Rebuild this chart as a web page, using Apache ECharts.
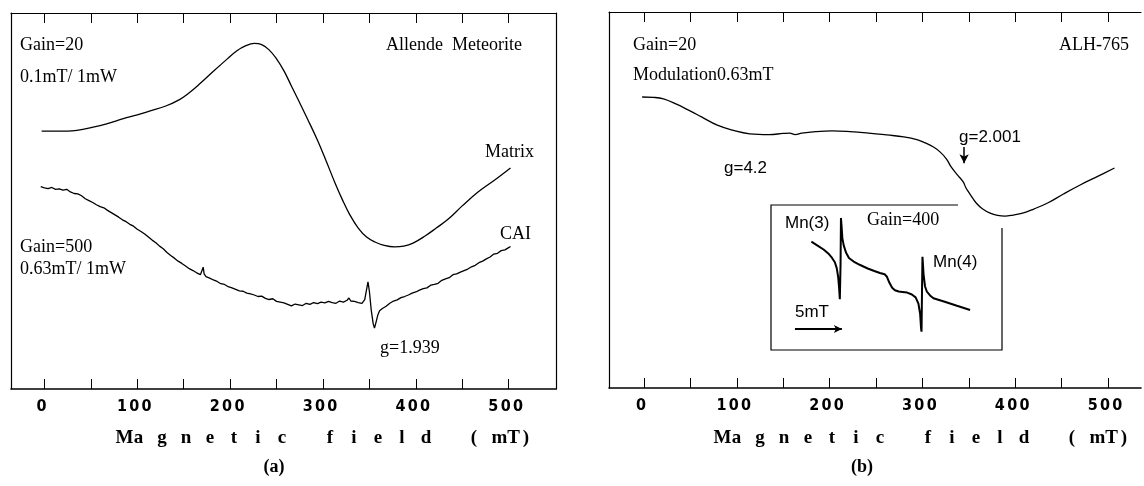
<!DOCTYPE html>
<html><head><meta charset="utf-8">
<script src="https://cdn.jsdelivr.net/npm/echarts@6/dist/echarts.min.js"></script>
<style>html,body{margin:0;padding:0;background:#fff}#c{width:1144px;height:486px}</style>
</head><body><div id="c"></div>
<script>
// ---------- data ----------
const tickValues = [0, 50, 100, 150, 200, 250, 300, 350, 400, 450, 500];
const labelValues = [0, 100, 200, 300, 400, 500];
const axisTitle = 'Ma g n e t i c   f i e l d   ( mT)';

// (a) Allende meteorite, Matrix (field mT, signal arb.)
const matrixA = [[-3,68.6],[10,68.6],[25,68.6],[35,68.8],[50,69.5],[67,70.5],[85,71.9],[100,72.9],[113,73.9],[130,75.2],[145,76.9],[156,78.8],[167,81.1],[182,84.5],[197,87.8],[207,89.9],[217,91.3],[226,91.9],[234,91.6],[242,90.2],[250,87.8],[258,84.6],[266,80.6],[274,76.6],[284,71.5],[294,66.2],[303,60.9],[313,54.8],[321,50.3],[329,46.3],[338,42.8],[347,40.4],[356,39.1],[366,38.2],[377,37.8],[387,38.0],[397,38.8],[410,40.7],[422,42.8],[435,45.2],[450,48.7],[467,52.4],[485,55.6],[502,58.8]];

// (a) CAI (noisy trace)
const caiA = [[-4,53.8],[0,53.5],[4,53.3],[8,53.6],[12,53.1],[16,53.2],[20,52.9],[24,53.1],[28,52.4],[32,52.0],[36,51.9],[40,51.4],[44,50.6],[48,50.1],[52,49.6],[56,49.0],[60,48.5],[64,48.2],[68,47.5],[72,46.9],[76,46.3],[80,45.7],[84,45.0],[88,44.5],[92,43.8],[96,43.3],[100,42.5],[104,41.9],[108,41.2],[112,40.4],[116,39.6],[120,38.9],[124,38.0],[128,37.3],[132,36.3],[136,35.5],[140,34.8],[144,34.0],[148,33.4],[152,32.7],[156,32.0],[160,31.5],[164,30.9],[168,30.4],[170,30.5],[171,32.4],[172,30.6],[174,29.9],[178,29.5],[182,29.0],[186,28.6],[190,28.0],[194,27.8],[198,27.2],[202,26.9],[206,26.5],[210,26.1],[214,26.0],[218,25.5],[222,25.3],[226,25.0],[230,24.6],[234,24.7],[238,24.1],[242,23.8],[246,24.0],[250,23.3],[254,23.1],[258,22.9],[262,22.5],[266,22.1],[270,22.6],[274,22.4],[278,22.2],[282,22.8],[286,22.5],[290,23.0],[294,22.7],[298,23.1],[302,22.9],[306,23.3],[310,23.0],[314,22.8],[318,23.4],[322,23.1],[326,23.6],[328,24.2],[330,23.4],[334,23.3],[338,23.0],[342,22.8],[345,23.8],[347,26.5],[348.5,28.5],[350,26.0],[352,21.0],[354,17.5],[355.5,16.2],[357,17.6],[359,19.6],[361,20.8],[364,21.4],[368,22.0],[372,22.8],[376,23.4],[380,23.7],[384,24.3],[388,24.6],[392,25.0],[396,25.5],[400,25.8],[404,26.3],[408,26.7],[412,26.9],[416,27.6],[420,27.8],[424,28.1],[428,28.9],[432,29.3],[436,29.6],[440,30.4],[444,30.6],[448,31.1],[452,31.5],[456,31.9],[460,32.5],[464,32.9],[468,33.6],[472,34.0],[476,34.6],[480,35.1],[484,35.9],[488,36.1],[492,36.8],[496,37.0],[500,37.6],[502,37.9]];

// (b) ALH-765
const alhB = [[-2,77.4],[10,77.3],[21,76.9],[35,75.5],[48,73.9],[62,72.1],[79,69.9],[95,68.6],[114,67.6],[135,67.4],[150,67.7],[157,67.8],[163,67.4],[170,67.8],[185,68.2],[203,68.4],[222,68.2],[242,67.8],[262,67.3],[280,66.8],[295,66.0],[303,65.2],[312,64.1],[319,62.8],[326,60.9],[331,58.8],[338,56.6],[344,54.8],[347,53.2],[349,52.4],[352,51.3],[358,49.2],[365,47.6],[373,46.5],[381,45.9],[389,45.7],[398,46.0],[408,46.5],[420,47.6],[435,49.2],[452,51.6],[470,54.0],[490,56.4],[507,58.5]];

// (b) inset, Mn(3)/Mn(4) lines, field offset in mT
const insetMn = [[4.3,74.7],[5.0,71.8],[5.6,69.3],[6.1,66.6],[6.5,63.5],[6.8,60.5],[7.0,56.5],[7.15,50.5],[7.25,43],[7.33,35],[7.37,34.5],[7.41,60],[7.45,91],[7.52,85],[7.6,77],[7.75,72],[8.0,67],[8.3,63.5],[8.8,61],[9.5,58.6],[10.3,56.2],[11.0,54.5],[11.6,53.1],[12.1,52.2],[12.35,50.5],[12.6,46.5],[12.9,43],[13.2,41.2],[13.6,40.3],[14.0,40.0],[14.5,39.6],[15.0,38.3],[15.4,36.3],[15.7,32],[15.88,25],[15.98,15],[16.03,12.6],[16.08,40],[16.13,64.3],[16.25,52],[16.4,44],[16.6,40.2],[17.0,37.2],[17.3,35.7],[18.5,33.3],[19.8,30.5],[21.2,27.6]];
const scaleBar = [2.55, 7.55, 14.5];   // 5 mT bar: from, to, height
const gArrow = [345, 64.1, 59.8];      // g=2.001 arrow: field, from, to

// ---------- layout ----------
const GA = {left: 11, top: 13, width: 545, height: 376};
const GB = {left: 609, top: 12, width: 532, height: 376};
const GI = {left: 771, top: 205, width: 231, height: 145};
const SERIF = "'Liberation Serif','Times New Roman',serif";
const SANS = "'Liberation Sans',Arial,sans-serif";
const NARROW = "'Liberation Sans Narrow','DejaVu Sans Condensed',sans-serif";

const digitRich = {d: {width: 12.3, align: 'center', fontSize: 16, fontWeight: 'bold', fontFamily: NARROW, color: '#000'}};
function digits(v) { return String(v).split('').map(c => '{d|' + c + '}').join(''); }

function bottomAxis(grid, min, max) {
  return {type: 'value', gridIndex: grid, position: 'bottom', min, max,
    axisLine: {show: true, onZero: false, lineStyle: {color: '#000', width: 1.6}},
    axisTick: {show: true, inside: true, length: 10, customValues: tickValues, lineStyle: {color: '#000', width: 1}},
    axisLabel: {show: true, customValues: labelValues, formatter: digits, rich: digitRich, margin: 10, padding: [0, 6, 0, 0]},
    splitLine: {show: false}};
}
function topAxis(grid, min, max) {
  return {type: 'value', gridIndex: grid, position: 'top', min, max,
    axisLine: {show: true, onZero: false, lineStyle: {color: '#000', width: 1.2}},
    axisTick: {show: true, inside: true, length: 10, customValues: tickValues, lineStyle: {color: '#000', width: 1}},
    axisLabel: {show: false}, splitLine: {show: false}};
}
function sideAxis(grid, pos) {
  return {type: 'value', gridIndex: grid, position: pos, min: 0, max: 100,
    axisLine: {show: true, onZero: false, lineStyle: {color: '#000', width: 1.2}},
    axisTick: {show: false}, axisLabel: {show: false}, splitLine: {show: false}};
}

const txt = (x, y, text, opt) => Object.assign({type: 'text', x, y, style: Object.assign({text, fill: '#000', font: '18px ' + SERIF, verticalAlign: 'middle', align: 'left'}, opt || {})});

function spacedTitle(x, y) {
  const wide = {M: 17, a: 11, m: 15, T: 13};
  const rich = {};
  let s = '';
  axisTitle.split('').forEach((c, i) => {
    const key = 'c' + i;
    rich[key] = {width: wide[c] || 12.0, align: 'center', fontSize: 19, fontWeight: 'bold', fontFamily: SERIF, color: '#000'};
    s += '{' + key + '|' + (c === ' ' ? '\u00a0' : c) + '}';
  });
  return {type: 'text', x, y, style: {text: s, rich, verticalAlign: 'middle', align: 'left'}};
}

const insetFrame = {type: 'polyline', shape: {points: [
  [GI.left + GI.width - 44, GI.top], [GI.left, GI.top], [GI.left, GI.top + GI.height],
  [GI.left + GI.width, GI.top + GI.height], [GI.left + GI.width, GI.top + 23]]},
  style: {stroke: '#000', lineWidth: 1.2, fill: null}};

const line = (color, w) => ({color, width: w});

const option = {
  animation: false,
  backgroundColor: '#fff',
  grid: [Object.assign({}, GA), Object.assign({}, GB), Object.assign({}, GI)],
  xAxis: [bottomAxis(0, -36, 551), topAxis(0, -36, 551), bottomAxis(1, -37.7, 535.6), topAxis(1, -37.7, 535.6),
    {type: 'value', gridIndex: 2, min: 0, max: 24.6, show: false}],
  yAxis: [sideAxis(0, 'left'), sideAxis(0, 'right'), sideAxis(1, 'left'),
    {type: 'value', gridIndex: 2, min: 0, max: 100, show: false}],
  series: [
    {type: 'line', name: 'Matrix', xAxisIndex: 0, yAxisIndex: 0, data: matrixA, smooth: 0.4, showSymbol: false, symbol: 'none', lineStyle: line('#000', 1.3)},
    {type: 'line', name: 'CAI', xAxisIndex: 0, yAxisIndex: 0, data: caiA, smooth: false, showSymbol: false, symbol: 'none', lineStyle: line('#000', 1.3)},
    {type: 'line', name: 'ALH-765', xAxisIndex: 2, yAxisIndex: 2, data: alhB, smooth: 0.4, showSymbol: false, symbol: 'none', lineStyle: line('#000', 1.3),
      markLine: {silent: true, symbol: ['none', 'arrow'], symbolSize: [7, 9], label: {show: false}, lineStyle: {color: '#000', width: 1.5, type: 'solid'},
        data: [[{coord: [gArrow[0], gArrow[1]]}, {coord: [gArrow[0], gArrow[2]]}]]}},
    {type: 'line', name: 'Mn', xAxisIndex: 4, yAxisIndex: 3, data: insetMn, smooth: false, showSymbol: false, symbol: 'none', lineStyle: line('#000', 2),
      markLine: {silent: true, symbol: ['none', 'arrow'], symbolSize: [6, 8], label: {show: false}, lineStyle: {color: '#000', width: 2, type: 'solid'},
        data: [[{coord: [scaleBar[0], scaleBar[2]]}, {coord: [scaleBar[1], scaleBar[2]]}]]}}
  ],
  graphic: [
    txt(20, 45, 'Gain=20'),
    txt(20, 77, '0.1mT/ 1mW'),
    txt(386, 45, 'Allende  Meteorite'),
    txt(534, 152, 'Matrix', {align: 'right'}),
    txt(531, 234, 'CAI', {align: 'right'}),
    txt(20, 247, 'Gain=500'),
    txt(20, 269, '0.63mT/ 1mW'),
    txt(380, 348, 'g=1.939'),
    txt(633, 45, 'Gain=20'),
    txt(633, 75, 'Modulation0.63mT'),
    txt(1129, 45, 'ALH-765', {align: 'right'}),
    txt(724, 168, 'g=4.2', {font: '17px ' + SANS}),
    txt(959, 137, 'g=2.001', {font: '17px ' + SANS}),
    txt(785, 223, 'Mn(3)', {font: '17px ' + SANS}),
    txt(867, 220, 'Gain=400'),
    txt(933, 262, 'Mn(4)', {font: '17px ' + SANS}),
    txt(795, 312, '5mT', {font: '17px ' + SANS}),
    insetFrame,
    spacedTitle(116, 438),
    spacedTitle(714, 438),
    txt(274, 467, '(a)', {align: 'center', font: 'bold 18px ' + SERIF}),
    txt(862, 467, '(b)', {align: 'center', font: 'bold 18px ' + SERIF})
  ]
};
const chart = echarts.init(document.getElementById('c'), null, {renderer: 'canvas'});
chart.setOption(option);
</script>
</body></html>
